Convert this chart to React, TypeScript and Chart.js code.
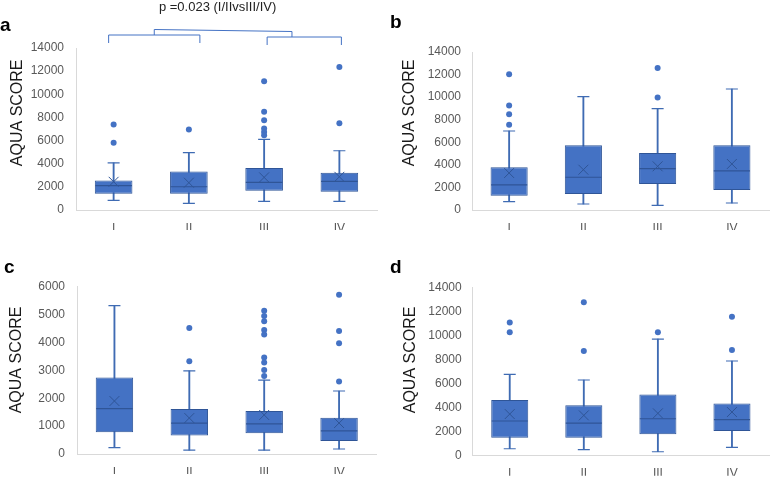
import React, { useEffect, useRef } from "react";
import { Chart, registerables } from "chart.js";

Chart.register(...registerables);

// ---------- data ----------
const categories = ["I", "II", "III", "IV"];

const aMin = [830, 580, 750, 750];
const aQ1 = [1410, 1410, 1670, 1580];
const aMedian = [2100, 2010, 2390, 2470];
const aQ3 = [2560, 3330, 3620, 3220];
const aMax = [4080, 4950, 6100, 5120];
const aMean = [2440, 2360, 2820, 2870];
const aOutliers = [[7390, 5810], [6960], [11120, 8500, 7750, 7050, 6750, 6450], [12360, 7500]];

const bMin = [740, 530, 410, 620];
const bQ1 = [1270, 1420, 2300, 1770];
const bMedian = [2220, 2900, 3660, 3460];
const bQ3 = [3780, 5730, 5050, 5730];
const bMax = [7000, 10040, 8980, 10720];
const bMean = [3280, 3570, 3870, 4080];
const bOutliers = [[12020, 9250, 8480, 7560], [], [12580, 9960], []];

const cMin = [230, 140, 140, 180];
const cQ1 = [780, 660, 740, 470];
const cMedian = [1630, 1110, 1080, 830];
const cQ3 = [2740, 1610, 1540, 1300];
const cMax = [5320, 2980, 2650, 2260];
const cMean = [1900, 1290, 1400, 1110];
const cOutliers = [[], [4520, 3330], [5140, 4950, 4760, 4450, 4290, 3460, 3280, 3010, 2800], [5710, 4410, 3970, 2600]];

const dMin = [580, 500, 330, 690];
const dQ1 = [1500, 1500, 1780, 2060];
const dMedian = [2890, 2720, 3080, 3000];
const dQ3 = [4640, 4200, 5110, 4360];
const dMax = [6780, 6310, 9720, 7890];
const dMean = [3470, 3360, 3530, 3640];
const dOutliers = [[11110, 10280], [12780, 8720], [10280], [11580, 8810]];

const yTitle = "AQUA SCORE";
const pText = "p =0.023 (I/IIvsIII/IV)";

// ---------- styles ----------
const FONT = '"Liberation Sans", Arial, sans-serif';
const BOX_FILL = "#4472C4";
const BOX_EDGE = "#2F5597";
const WHISKER = "#3F6BB3";
const MEAN = "#2F5597";
const DOT = "#4472C4";
const AXIS = "#D9D9D9";
const TICK = "#595959";
const BOX_FRAC = 0.5;

type Spec = {
  letter: string;
  min: number[]; q1: number[]; median: number[]; q3: number[]; max: number[]; mean: number[];
  outliers: number[][];
  yMax: number; yStep: number;
  left: number; top: number; width: number; height: number;
  pad: { top: number; right: number; bottom: number };
  yWidth: number; tickPad: number;
  titleOffset: number; titleFrac: number;
  letterX: number; letterY: number;
  bracket?: boolean;
};

const panels: Spec[] = [
  {
    letter: "a", min: aMin, q1: aQ1, median: aMedian, q3: aQ3, max: aMax, mean: aMean, outliers: aOutliers,
    yMax: 14000, yStep: 2000, left: 0, top: 0, width: 388, height: 240,
    pad: { top: 48, right: 11, bottom: 10 }, yWidth: 76, tickPad: 12,
    titleOffset: 58, titleFrac: 0.4, letterX: 0, letterY: 31, bracket: true,
  },
  {
    letter: "b", min: bMin, q1: bQ1, median: bMedian, q3: bQ3, max: bMax, mean: bMean, outliers: bOutliers,
    yMax: 14000, yStep: 2000, left: 388, top: 0, width: 389, height: 240,
    pad: { top: 52, right: 2.7, bottom: 10 }, yWidth: 84, tickPad: 11,
    titleOffset: 62.7, titleFrac: 0.386, letterX: 2, letterY: 28,
  },
  {
    letter: "c", min: cMin, q1: cQ1, median: cMedian, q3: cQ3, max: cMax, mean: cMean, outliers: cOutliers,
    yMax: 6000, yStep: 1000, left: 0, top: 240, width: 388, height: 238,
    pad: { top: 46.7, right: 11.5, bottom: 4 }, yWidth: 77, tickPad: 12,
    titleOffset: 60.6, titleFrac: 0.438, letterX: 4, letterY: 33,
  },
  {
    letter: "d", min: dMin, q1: dQ1, median: dMedian, q3: dQ3, max: dMax, mean: dMean, outliers: dOutliers,
    yMax: 14000, yStep: 2000, left: 388, top: 240, width: 389, height: 238,
    pad: { top: 47.7, right: 0.6, bottom: 2.3 }, yWidth: 84.7, tickPad: 11,
    titleOffset: 62, titleFrac: 0.43, letterX: 2, letterY: 33,
  },
];

function Panel({ spec }: { spec: Spec }) {
  const ref = useRef<HTMLCanvasElement | null>(null);

  useEffect(() => {
    const canvas = ref.current;
    if (!canvas) return;

    const boxHalf = (ctx: any) => {
      const xs = ctx.chart.scales.x;
      if (!xs) return 18;
      return ((xs.getPixelForValue(1) - xs.getPixelForValue(0)) * BOX_FRAC) / 2 - 0.5;
    };

    const capPoints: any[] = [];
    categories.forEach((c, i) => {
      capPoints.push({ x: c, y: spec.min[i] });
      capPoints.push({ x: c, y: spec.max[i] });
    });
    const outlierPoints: any[] = [];
    categories.forEach((c, i) => {
      spec.outliers[i].forEach((v) => outlierPoints.push({ x: c, y: v }));
    });

    const overlay = {
      id: "overlay",
      afterDraw(chart: any) {
        const ctx = chart.ctx as CanvasRenderingContext2D;
        const area = chart.chartArea;
        ctx.save();
        ctx.fillStyle = "#000";
        ctx.font = `bold 19px ${FONT}`;
        ctx.textAlign = "left";
        ctx.textBaseline = "alphabetic";
        ctx.fillText(spec.letter, spec.letterX, spec.letterY);
        ctx.restore();

        ctx.save();
        ctx.translate(area.left - spec.titleOffset, area.top + area.height * spec.titleFrac);
        ctx.rotate(-Math.PI / 2);
        ctx.font = `16px ${FONT}`;
        ctx.textAlign = "center";
        ctx.textBaseline = "middle";
        ctx.fillStyle = "#1a1a1a";
        ctx.fillText(yTitle, 0, 0);
        ctx.restore();

        if (spec.bracket) {
          const xs = chart.scales.x;
          const p0 = xs.getPixelForValue(0);
          const p1 = xs.getPixelForValue(1);
          const p2 = xs.getPixelForValue(2);
          const p3 = xs.getPixelForValue(3);
          const t = area.top;
          const l1 = p0 - 5, r1 = p1 + 11;
          const l2 = p2 + 3, r2 = p3 + 2;
          const m1 = (l1 + r1) / 2;
          const m2 = p2 + (p3 - p2) * 0.37;
          ctx.save();
          ctx.strokeStyle = BOX_FILL;
          ctx.lineWidth = 1;
          ctx.beginPath();
          ctx.moveTo(l1, t - 5); ctx.lineTo(l1, t - 13); ctx.lineTo(r1, t - 13); ctx.lineTo(r1, t - 5);
          ctx.moveTo(l2, t - 3); ctx.lineTo(l2, t - 11); ctx.lineTo(r2, t - 11); ctx.lineTo(r2, t - 3);
          ctx.moveTo(m1, t - 13); ctx.lineTo(m1, t - 18.5); ctx.lineTo(m2, t - 16.5); ctx.lineTo(m2, t - 11);
          ctx.stroke();
          ctx.fillStyle = "#222";
          ctx.font = `13px ${FONT}`;
          ctx.textAlign = "center";
          ctx.textBaseline = "middle";
          ctx.fillText(pText, (m1 + m2) / 2 - 5.5, 7.5);
          ctx.restore();
        }
      },
    };

    const chart = new Chart(canvas, {
      type: "bar",
      data: {
        labels: categories,
        datasets: [
          {
            type: "scatter",
            label: "outliers",
            data: outlierPoints,
            pointStyle: "circle",
            radius: 3,
            backgroundColor: DOT,
            borderColor: DOT,
            borderWidth: 0,
            order: 0,
          } as any,
          {
            type: "scatter",
            label: "mean",
            data: categories.map((c, i) => ({ x: c, y: spec.mean[i] })),
            pointStyle: "crossRot",
            radius: 7,
            borderColor: MEAN,
            borderWidth: 1,
            order: 0,
          } as any,
          {
            type: "scatter",
            label: "median",
            data: categories.map((c, i) => ({ x: c, y: spec.median[i] })),
            pointStyle: "line",
            radius: boxHalf,
            borderColor: BOX_EDGE,
            borderWidth: 1.2,
            order: 1,
          } as any,
          {
            type: "scatter",
            label: "caps",
            data: capPoints,
            pointStyle: "line",
            radius: 6,
            borderColor: WHISKER,
            borderWidth: 1.2,
            order: 1,
          } as any,
          {
            type: "bar",
            label: "box",
            data: categories.map((_, i) => [spec.q1[i], spec.q3[i]]),
            backgroundColor: BOX_FILL,
            borderColor: BOX_EDGE,
            borderWidth: 1,
            borderSkipped: false,
            grouped: false,
            barPercentage: BOX_FRAC,
            categoryPercentage: 1,
            order: 2,
          } as any,
          {
            type: "bar",
            label: "whisker",
            data: categories.map((_, i) => [spec.min[i], spec.max[i]]),
            backgroundColor: WHISKER,
            borderWidth: 0,
            grouped: false,
            maxBarThickness: 1.2,
            barPercentage: 1,
            categoryPercentage: 1,
            order: 3,
          } as any,
        ],
      },
      options: {
        animation: false,
        responsive: false,
        events: [],
        layout: { padding: { left: 0, top: spec.pad.top, right: spec.pad.right, bottom: spec.pad.bottom } },
        plugins: { legend: { display: false }, tooltip: { enabled: false }, title: { display: false } },
        scales: {
          x: {
            type: "category",
            offset: true,
            grid: { display: false, drawTicks: false },
            border: { display: true, color: AXIS, width: 1 },
            ticks: { color: TICK, font: { family: FONT, size: 12 }, padding: 11 },
            afterFit: (s: any) => { s.height = 20; },
          },
          y: {
            type: "linear",
            min: 0,
            max: spec.yMax,
            grid: { display: false, drawTicks: false },
            border: { display: true, color: AXIS, width: 1 },
            ticks: {
              stepSize: spec.yStep,
              color: TICK,
              font: { family: FONT, size: 12 },
              padding: spec.tickPad,
              callback: (v: any) => String(v),
            },
            afterFit: (s: any) => { s.width = spec.yWidth; },
          },
        },
      } as any,
      plugins: [overlay],
    });

    return () => chart.destroy();
  }, [spec]);

  return (
    <canvas
      ref={ref}
      width={spec.width}
      height={spec.height}
      style={{ position: "absolute", left: spec.left, top: spec.top, width: spec.width, height: spec.height }}
    />
  );
}

export default function App() {
  return (
    <div style={{ position: "absolute", left: 0, top: 0, width: 777, height: 478, background: "#fff", overflow: "hidden" }}>
      {panels.map((p) => (
        <Panel key={p.letter} spec={p} />
      ))}
    </div>
  );
}
